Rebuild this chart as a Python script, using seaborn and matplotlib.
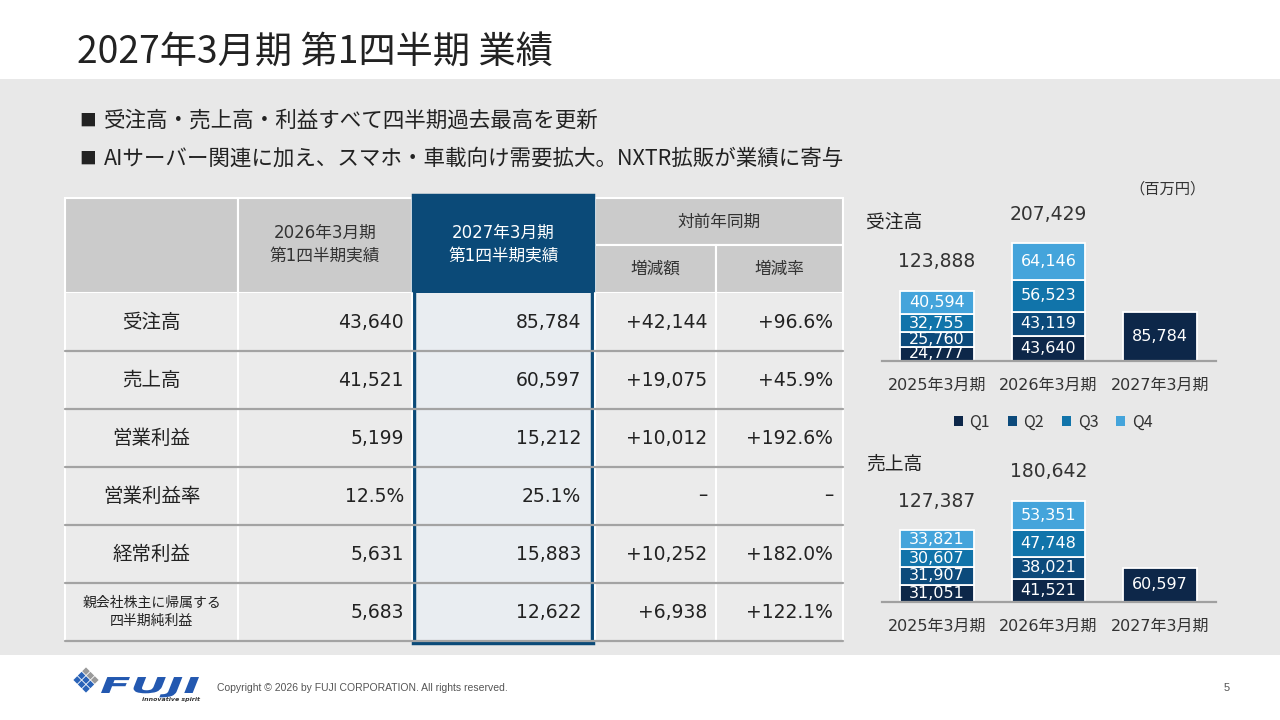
import numpy as np
import pandas as pd
import matplotlib.pyplot as plt
import seaborn as sns
from matplotlib.patches import Rectangle, Polygon, Patch, PathPatch
from matplotlib.textpath import TextPath
from matplotlib.font_manager import FontProperties
from matplotlib.transforms import Affine2D

sns.set_theme(style="white")
plt.rcParams['font.family'] = ['Noto Sans CJK JP', 'DejaVu Sans']
num_font = ['DejaVu Sans', 'Noto Sans CJK JP']

# chart data (百万円)
years = ['2025年3月期', '2026年3月期', '2027年3月期']
quarters = ['Q1', 'Q2', 'Q3', 'Q4']
q_colors = ['#0d2749', '#0c4a7b', '#1174aa', '#44a4db']

orders_2025 = [24777, 25760, 32755, 40594]
orders_2026 = [43640, 43119, 56523, 64146]
orders_2027 = [85784]
orders_total = [123888, 207429, None]

sales_2025 = [31051, 31907, 30607, 33821]
sales_2026 = [41521, 38021, 47748, 53351]
sales_2027 = [60597]
sales_total = [127387, 180642, None]

# table data
row_labels = ['受注高', '売上高', '営業利益', '営業利益率', '経常利益', '親会社株主に帰属する\n四半期純利益']
prev_q1 = ['43,640', '41,521', '5,199', '12.5%', '5,631', '5,683']
curr_q1 = ['85,784', '60,597', '15,212', '25.1%', '15,883', '12,622']
yoy_diff = ['+42,144', '+19,075', '+10,012', '–', '+10,252', '+6,938']
yoy_rate = ['+96.6%', '+45.9%', '+192.6%', '–', '+182.0%', '+122.1%']

bullets = ['受注高・売上高・利益すべて四半期過去最高を更新',
           'AIサーバー関連に加え、スマホ・車載向け需要拡大。NXTR拡販が業績に寄与']

fig = plt.figure(figsize=(12.8, 7.2), dpi=100)
bg = fig.add_axes([0, 0, 1, 1], zorder=0)
bg.set_xlim(0, 1280)
bg.set_ylim(720, 0)
bg.axis('off')

# background band + title
bg.add_patch(Rectangle((0, 79), 1280, 576, facecolor='#e8e8e8', edgecolor='none'))
bg.text(77, 52, '2027年3月期 第1四半期 業績', fontsize=26.8, color='#222222', ha='left', va='center')
for i, b in enumerate(bullets):
    y = 121 + 38 * i
    bg.text(79, y, '■', fontsize=12, color='#222222', ha='left', va='center')
    bg.text(104, y, b, fontsize=15.5, color='#222222', ha='left', va='center')

# ---- table ----
cols = [65, 238, 412, 595, 716, 843]
hdr_top, hdr_mid, hdr_bot = 198, 245, 293
row_h = 58
head_gray = '#cbcbcb'
navy = '#0b4a78'

for x0, x1, y0, y1 in [(65, 238, hdr_top, hdr_bot), (238, 412, hdr_top, hdr_bot),
                       (595, 843, hdr_top, hdr_mid), (595, 716, hdr_mid, hdr_bot),
                       (716, 843, hdr_mid, hdr_bot)]:
    bg.add_patch(Rectangle((x0, y0), x1 - x0, y1 - y0, facecolor=head_gray,
                           edgecolor='white', linewidth=1.5))
bg.add_patch(Rectangle((412, 195), 183, hdr_bot - 195, facecolor=navy, edgecolor='none'))

bg.text(325, 244, '2026年3月期\n第1四半期実績', fontsize=12, color='#333333',
        ha='center', va='center', linespacing=1.35, family=num_font)
bg.text(503.5, 244, '2027年3月期\n第1四半期実績', fontsize=12, color='white',
        ha='center', va='center', linespacing=1.35, family=num_font)
bg.text(719, 222, '対前年同期', fontsize=12, color='#333333', ha='center', va='center')
bg.text(655.5, 269, '増減額', fontsize=12, color='#333333', ha='center', va='center')
bg.text(779.5, 269, '増減率', fontsize=12, color='#333333', ha='center', va='center')

n_rows = len(row_labels)
body_bot = hdr_bot + row_h * n_rows
bg.add_patch(Rectangle((65, hdr_bot), 778, body_bot - hdr_bot, facecolor='#ebebeb', edgecolor='none'))
bg.add_patch(Rectangle((412, hdr_bot), 183, body_bot - hdr_bot, facecolor='#e9edf1', edgecolor='none'))
for x in cols:
    bg.plot([x, x], [hdr_bot, body_bot], color='white', lw=1.5)
for i in range(1, n_rows + 1):
    y = hdr_bot + row_h * i
    bg.plot([65, 843], [y, y], color='#a3a3a3', lw=1.6)

right_edges = [404, 581, 707, 833]
for i, lab in enumerate(row_labels):
    yc = hdr_bot + row_h * (i + 0.5)
    small = '\n' in lab
    bg.text(151.5, yc, lab, fontsize=10 if small else 14, color='#222222',
            ha='center', va='center', linespacing=1.3)
    for col_vals, xr in zip([prev_q1, curr_q1, yoy_diff, yoy_rate], right_edges):
        bg.text(xr, yc, col_vals[i], fontsize=13.5, color='#222222',
                ha='right', va='center', family=num_font)

bg.add_patch(Rectangle((414, 196), 179, body_bot - 195 + 1, facecolor='none',
                       edgecolor=navy, linewidth=3.2))

# ---- stacked bar charts ----
def stacked_bars(ax, q_lists, totals, ymax):
    rows = []
    for yr, vals in zip(years, q_lists):
        for qi, v in enumerate(vals):
            rows.append({'year': yr, 'quarter': quarters[qi], 'value': v})
    df = pd.DataFrame(rows)
    df['bottom'] = df.groupby('year')['value'].cumsum() - df['value']
    for qi, q in enumerate(quarters):
        sub = df[df['quarter'] == q]
        sns.barplot(data=sub, x='year', y='value', order=years, bottom=sub['bottom'].values,
                    color=q_colors[qi], saturation=1, width=0.655, errorbar=None,
                    edgecolor='white', linewidth=1.3, ax=ax)
    for _, r in df.iterrows():
        ax.text(years.index(r['year']), r['bottom'] + r['value'] / 2, f"{r['value']:,}",
                ha='center', va='center', color='white', fontsize=11.5, family=num_font)
    tops = df.groupby('year', sort=False)['value'].sum()
    for i, t in enumerate(totals):
        if t is None:
            continue
        ax.annotate(f'{t:,}', xy=(i, tops[years[i]]), xytext=(0, 21), textcoords='offset points',
                    ha='center', va='center', fontsize=13.5, color='#333333', family=num_font)
    ax.set_xlim(-0.493, 2.502)
    ax.set_ylim(0, ymax)
    ax.set_facecolor('none')
    ax.set_xlabel('')
    ax.set_ylabel('')
    ax.set_yticks([])
    for s in ['top', 'left', 'right']:
        ax.spines[s].set_visible(False)
    ax.spines['bottom'].set_color('#a0a0a0')
    ax.spines['bottom'].set_linewidth(1.6)
    ax.tick_params(axis='x', length=0, pad=12, labelsize=11.5, labelcolor='#333333')
    for lbl in ax.get_xticklabels():
        lbl.set_family(num_font)


def px_axes(left, right, bottom, height):
    return fig.add_axes([left / 1280, 1 - bottom / 720, (right - left) / 1280, height / 720], zorder=2)


ax1 = px_axes(882, 1216, 361, 161)
stacked_bars(ax1, [orders_2025, orders_2026, orders_2027], orders_total, 161 * 1762)
ax2 = px_axes(882, 1216, 602, 161)
stacked_bars(ax2, [sales_2025, sales_2026, sales_2027], sales_total, 161 * 1780)

bg.text(866, 222, '受注高', fontsize=13.5, color='#222222', ha='left', va='center')
bg.text(866, 464, '売上高', fontsize=13.5, color='#222222', ha='left', va='center')
bg.text(1167, 189, '（百万円）', fontsize=11, color='#333333', ha='center', va='center')

handles = [Patch(facecolor=c, edgecolor='none', label=q) for c, q in zip(q_colors, quarters)]
fig.legend(handles=handles, loc='center', bbox_to_anchor=(1053 / 1280, 1 - 422 / 720), ncol=4,
           frameon=False, handlelength=0.6, handleheight=0.6, handletextpad=0.4,
           columnspacing=1.1, fontsize=11.5, labelcolor='#333333')

# ---- footer ----
s = 4.4
cx, cy = 86, 680
for u in range(3):
    for v in range(3):
        x = cx + (u - v) * s
        y = cy + (u + v - 2) * s
        col = '#9a9a9a' if v == 0 else '#2a63b8'
        bg.add_patch(Polygon([[x, y - s + 0.6], [x + s - 0.6, y], [x, y + s - 0.6], [x - s + 0.6, y]],
                             closed=True, facecolor=col, edgecolor='none'))
tp = TextPath((0, 0), 'FUJI', size=1, prop=FontProperties(family='DejaVu Sans', weight='bold', style='italic'))
ext = tp.get_extents()
tr = Affine2D().translate(-ext.x0, 0).scale(98 / ext.width, -16 / 0.73).translate(101, 693)
bg.add_patch(PathPatch(tr.transform_path(tp), facecolor='#2358b0', edgecolor='none'))
bg.text(200, 699, 'innovative spirit', fontsize=4.5, style='italic', weight='bold',
        color='#333333', ha='right', va='center', family='DejaVu Sans')
bg.text(217, 688, 'Copyright © 2026 by FUJI CORPORATION. All rights reserved.', fontsize=7.5,
        color='#555555', ha='left', va='center', family='Liberation Sans')
bg.text(1230, 688, '5', fontsize=8, color='#555555', ha='right', va='center', family='Liberation Sans')

fig.savefig('out.png', dpi=100)
